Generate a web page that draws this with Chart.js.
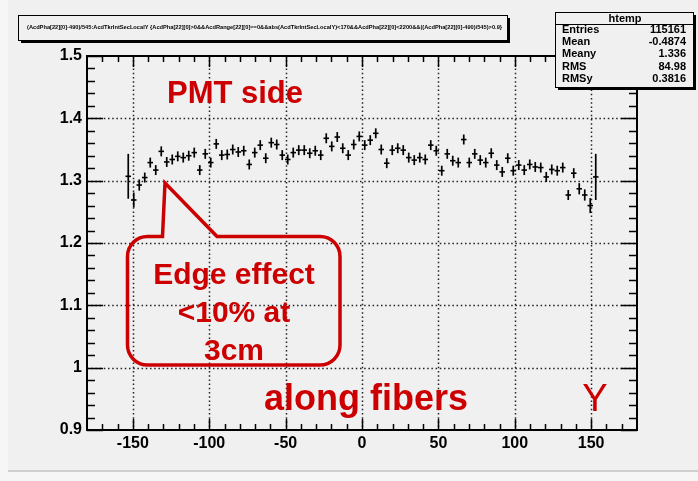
<!DOCTYPE html>
<html>
<head>
<meta charset="utf-8">
<script src="https://cdn.jsdelivr.net/npm/chart.js@4/dist/chart.umd.min.js"></script>
<style>
  html, body { margin: 0; padding: 0; background: #f4f4f4; }
  canvas { display: block; }
</style>
</head>
<body>
<canvas id="c" width="698" height="481"></canvas>
<script>
// Profile of (AcdPha-490)/545 versus AcdTkrIntSecLocalY, 3.6 mm bins
const binCenters = [
  -153.0, -149.4, -145.8, -142.2, -138.6, -135.0, -131.4, -127.8, -124.2, -120.6,
  -117.0, -113.4, -109.8, -106.2, -102.6, -99.0, -95.4, -91.8, -88.2, -84.6,
  -81.0, -77.4, -73.8, -70.2, -66.6, -63.0, -59.4, -55.8, -52.2, -48.6,
  -45.0, -41.4, -37.8, -34.2, -30.6, -27.0, -23.4, -19.8, -16.2, -12.6,
  -9.0, -5.4, -1.8, 1.8, 5.4, 9.0, 12.6, 16.2, 19.8, 23.4,
  27.0, 30.6, 34.2, 37.8, 41.4, 45.0, 48.6, 52.2, 55.8, 59.4,
  63.0, 66.6, 70.2, 73.8, 77.4, 81.0, 84.6, 88.2, 91.8, 95.4,
  99.0, 102.6, 106.2, 109.8, 113.4, 117.0, 120.6, 124.2, 127.8, 131.4,
  135.0, 138.6, 142.2, 145.8, 149.4, 153.0
];
const meanValues = [
  1.307, 1.269, 1.293, 1.305, 1.329, 1.317, 1.347, 1.330, 1.334, 1.339,
  1.337, 1.340, 1.345, 1.317, 1.343, 1.329, 1.359, 1.341, 1.342, 1.350,
  1.346, 1.348, 1.326, 1.345, 1.357, 1.336, 1.361, 1.358, 1.341, 1.334,
  1.345, 1.349, 1.349, 1.344, 1.348, 1.341, 1.368, 1.355, 1.370, 1.352,
  1.341, 1.358, 1.371, 1.357, 1.365, 1.376, 1.350, 1.328, 1.349, 1.352,
  1.349, 1.337, 1.333, 1.337, 1.334, 1.357, 1.348, 1.316, 1.343, 1.332,
  1.329, 1.366, 1.329, 1.343, 1.333, 1.329, 1.344, 1.325, 1.314, 1.336,
  1.316, 1.325, 1.317, 1.326, 1.322, 1.321, 1.306, 1.318, 1.316, 1.321,
  1.277, 1.312, 1.287, 1.277, 1.260, 1.306
];
const meanErrors = [
  0.036, 0.012, 0.009, 0.008, 0.008, 0.008, 0.008, 0.008, 0.008, 0.008,
  0.008, 0.008, 0.008, 0.008, 0.008, 0.008, 0.008, 0.008, 0.008, 0.008,
  0.008, 0.008, 0.008, 0.008, 0.008, 0.008, 0.008, 0.008, 0.008, 0.008,
  0.008, 0.008, 0.008, 0.008, 0.008, 0.008, 0.008, 0.008, 0.008, 0.008,
  0.008, 0.008, 0.008, 0.008, 0.008, 0.008, 0.008, 0.008, 0.008, 0.008,
  0.008, 0.008, 0.008, 0.008, 0.008, 0.008, 0.008, 0.008, 0.008, 0.008,
  0.008, 0.008, 0.008, 0.008, 0.008, 0.008, 0.008, 0.008, 0.008, 0.008,
  0.008, 0.008, 0.008, 0.008, 0.008, 0.008, 0.008, 0.008, 0.008, 0.008,
  0.008, 0.008, 0.009, 0.009, 0.012, 0.037
];
const xTickValues = [-150, -100, -50, 0, 50, 100, 150];
const yTickValues = [0.9, 1.0, 1.1, 1.2, 1.3, 1.4, 1.5];
const yTickLabels = ['0.9', '1', '1.1', '1.2', '1.3', '1.4', '1.5'];
const titleText = '(AcdPha[22][0]-490)/545:AcdTkrIntSecLocalY {AcdPha[22][0]>0&&AcdRange[22][0]==0&&abs(AcdTkrIntSecLocalY)<170&&AcdPha[22][0]<2200&&((AcdPha[22][0]-490)/545)>0.9}';
const statsName = 'htemp';
const statsLabels = ['Entries', 'Mean', 'Meany', 'RMS', 'RMSy'];
const statsValues = ['115161', '-0.4874', '1.336', '84.98', '0.3816'];

const RED = '#cc0000';
const PAD_BG = '#f0f0f0';
const FONT = '"Liberation Sans", Arial, Helvetica, sans-serif';

function shadowBox(ctx, x, y, w, h) {
  ctx.fillStyle = '#000';
  ctx.fillRect(x + 3, y + 3, w, h);
  ctx.fillStyle = PAD_BG;
  ctx.fillRect(x, y, w, h);
  ctx.strokeStyle = '#000';
  ctx.lineWidth = 1;
  ctx.strokeRect(x + 0.5, y + 0.5, w, h);
}

const padPlugin = {
  id: 'pad',
  beforeDraw(chart) {
    const ctx = chart.ctx;
    ctx.save();
    ctx.fillStyle = '#f6f6f6';
    ctx.fillRect(0, 0, 698, 481);
    ctx.fillStyle = PAD_BG;
    ctx.fillRect(8, 0, 690, 470);
    ctx.fillStyle = '#cfcfcf';
    ctx.fillRect(8, 470, 690, 2);
    // title box
    shadowBox(ctx, 18, 15, 489, 25);
    ctx.fillStyle = '#000';
    ctx.font = 'bold 5.8px ' + FONT;
    ctx.textBaseline = 'middle';
    ctx.textAlign = 'left';
    ctx.fillText(titleText, 27, 27.5, 475);
    ctx.restore();
  },
  beforeDatasetsDraw(chart) {
    // dotted grid at the labelled ticks
    const { ctx, chartArea: a, scales: { x, y } } = chart;
    ctx.save();
    ctx.strokeStyle = '#222';
    ctx.lineWidth = 1.5;
    ctx.setLineDash([1.5, 2.7]);
    xTickValues.forEach(v => {
      const px = Math.round(x.getPixelForValue(v)) + 0.5;
      ctx.beginPath(); ctx.moveTo(px, a.top); ctx.lineTo(px, a.bottom); ctx.stroke();
    });
    yTickValues.slice(1, -1).forEach(v => {
      const py = Math.round(y.getPixelForValue(v)) + 0.5;
      ctx.beginPath(); ctx.moveTo(a.left, py); ctx.lineTo(a.right, py); ctx.stroke();
    });
    ctx.restore();
  },
  afterDatasetsDraw(chart) {
    // vertical error bars of the profile
    const { ctx, scales: { x, y } } = chart;
    ctx.save();
    ctx.strokeStyle = '#000';
    ctx.lineWidth = 1.7;
    binCenters.forEach((xv, i) => {
      const px = x.getPixelForValue(xv);
      const top = y.getPixelForValue(meanValues[i] + meanErrors[i]);
      const bot = y.getPixelForValue(meanValues[i] - meanErrors[i]);
      ctx.beginPath(); ctx.moveTo(px, top); ctx.lineTo(px, bot); ctx.stroke();
    });
    ctx.restore();
  },
  afterDraw(chart) {
    const { ctx, chartArea: a, scales: { x, y } } = chart;
    ctx.save();
    // frame
    ctx.strokeStyle = '#000';
    ctx.lineWidth = 2;
    ctx.strokeRect(a.left, a.top, a.right - a.left, a.bottom - a.top);
    // inward ticks on all four sides
    ctx.lineWidth = 1.5;
    const yMajor = 16, yMinor = 8, xMajor = 11, xMinor = 6;
    for (let k = 0; k <= 30; k++) {
      const v = 0.9 + k * 0.02;
      const py = Math.round(y.getPixelForValue(v)) + 0.5;
      const len = (k % 5 === 0) ? yMajor : yMinor;
      ctx.beginPath();
      ctx.moveTo(a.left, py); ctx.lineTo(a.left + len, py);
      ctx.moveTo(a.right, py); ctx.lineTo(a.right - len, py);
      ctx.stroke();
    }
    for (let v = -170; v <= 170; v += 10) {
      const px = Math.round(x.getPixelForValue(v)) + 0.5;
      const len = (v % 50 === 0) ? xMajor : xMinor;
      ctx.beginPath();
      ctx.moveTo(px, a.bottom); ctx.lineTo(px, a.bottom - len);
      ctx.moveTo(px, a.top); ctx.lineTo(px, a.top + len);
      ctx.stroke();
    }

    // annotations
    ctx.fillStyle = RED;
    ctx.textBaseline = 'alphabetic';
    ctx.textAlign = 'center';
    ctx.font = 'bold 31px ' + FONT;
    ctx.fillText('PMT side', 235, 103);
    ctx.font = 'bold 36px ' + FONT;
    ctx.fillText('along fibers', 366, 410);
    ctx.font = '38px ' + FONT;
    ctx.fillText('Y', 595, 411);

    // callout balloon
    const L = 127.5, R = 340, T = 236.5, B = 365, r = 20;
    ctx.strokeStyle = RED;
    ctx.lineWidth = 3.5;
    ctx.lineJoin = 'miter';
    ctx.beginPath();
    ctx.moveTo(165, 183);
    ctx.lineTo(217, T);
    ctx.lineTo(R - r, T);
    ctx.arcTo(R, T, R, T + r, r);
    ctx.lineTo(R, B - r);
    ctx.arcTo(R, B, R - r, B, r);
    ctx.lineTo(L + r, B);
    ctx.arcTo(L, B, L, B - r, r);
    ctx.lineTo(L, T + r);
    ctx.arcTo(L, T, L + r, T, r);
    ctx.lineTo(162.5, T);
    ctx.closePath();
    ctx.stroke();
    ctx.font = 'bold 30px ' + FONT;
    ctx.fillText('Edge effect', 234, 284);
    ctx.fillText('<10% at', 234, 322);
    ctx.fillText('3cm', 234, 360);

    // statistics box
    shadowBox(ctx, 555, 12, 138, 75);
    ctx.strokeStyle = '#000';
    ctx.lineWidth = 1;
    ctx.beginPath(); ctx.moveTo(555, 24.5); ctx.lineTo(693, 24.5); ctx.stroke();
    ctx.fillStyle = '#000';
    ctx.font = 'bold 11px ' + FONT;
    ctx.textBaseline = 'middle';
    ctx.textAlign = 'center';
    ctx.fillText(statsName, 625, 18.5);
    statsLabels.forEach((lab, i) => {
      const ty = 29.8 + i * 12.3;
      ctx.textAlign = 'left';
      ctx.fillText(lab, 562, ty);
      ctx.textAlign = 'right';
      ctx.fillText(statsValues[i], 686, ty);
    });
    ctx.restore();
  }
};

new Chart(document.getElementById('c'), {
  type: 'scatter',
  data: {
    datasets: [{
      data: binCenters.map((xv, i) => ({ x: xv, y: meanValues[i] })),
      pointStyle: 'line',
      pointRadius: 2.75,
      pointHoverRadius: 2.75,
      borderColor: '#000',
      backgroundColor: '#000',
      borderWidth: 1.6,
      showLine: false
    }]
  },
  options: {
    responsive: false,
    animation: false,
    events: [],
    layout: { padding: { top: 56, right: 61, left: 0, bottom: 0 } },
    plugins: { legend: { display: false }, tooltip: { enabled: false }, title: { display: false } },
    scales: {
      x: {
        type: 'linear',
        min: -180, max: 180,
        afterBuildTicks: s => { s.ticks = xTickValues.map(v => ({ value: v })); },
        afterFit: s => { s.height = 51; },
        grid: { display: false, drawTicks: false },
        border: { display: false },
        ticks: {
          color: '#000', padding: 4, maxRotation: 0, autoSkip: false,
          font: { family: FONT, size: 16, weight: 'bold' },
          callback: v => String(v)
        }
      },
      y: {
        type: 'linear',
        min: 0.9, max: 1.5,
        afterBuildTicks: s => { s.ticks = yTickValues.map(v => ({ value: v })); },
        afterFit: s => { s.width = 87; },
        grid: { display: false, drawTicks: false },
        border: { display: false },
        ticks: {
          color: '#000', padding: 5, autoSkip: false,
          font: { family: FONT, size: 16, weight: 'bold' },
          callback: (v, i) => yTickLabels[i]
        }
      }
    }
  },
  plugins: [padPlugin]
});
</script>
</body>
</html>
